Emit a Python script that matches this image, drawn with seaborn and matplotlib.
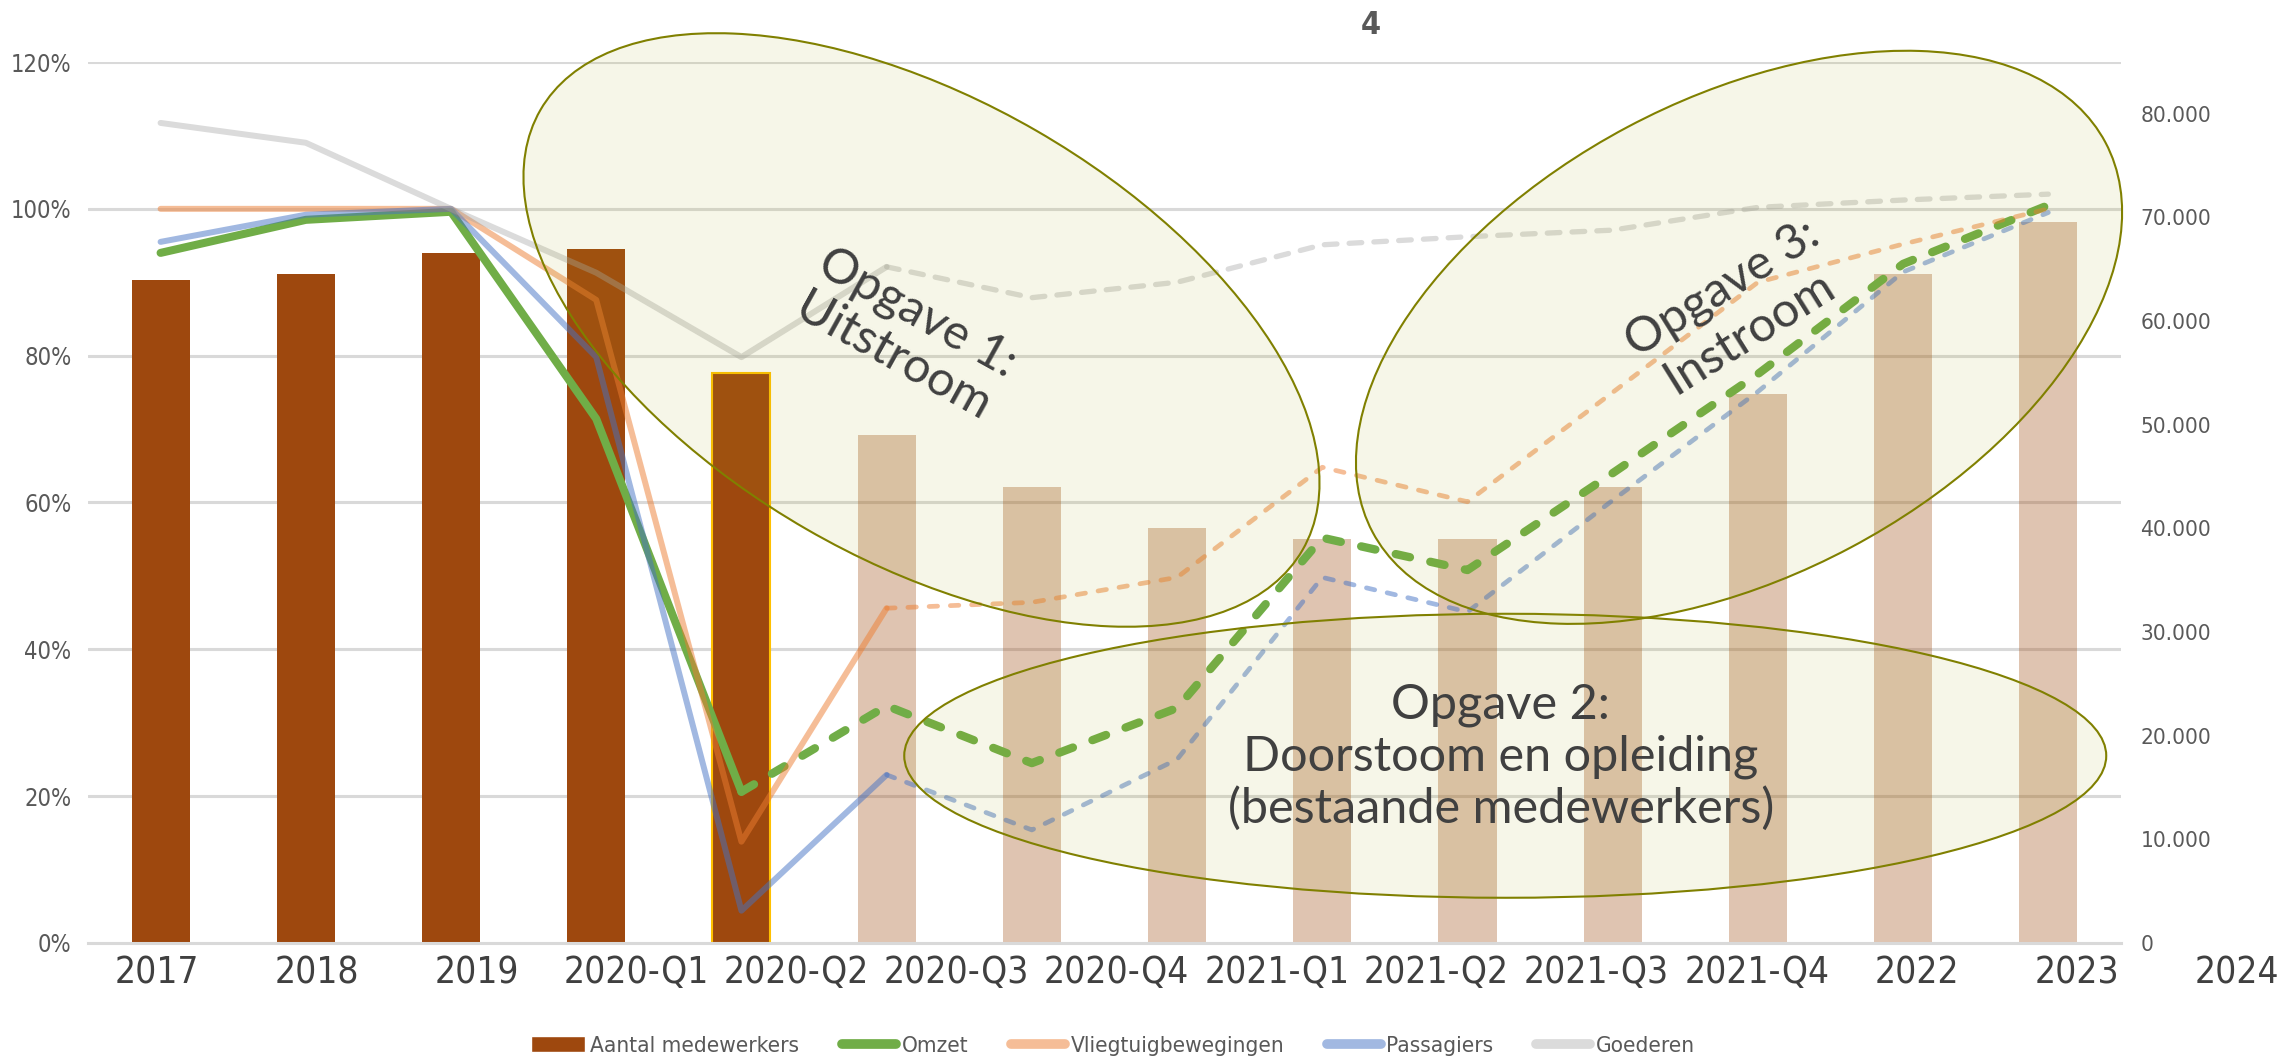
import numpy as np
import pandas as pd
import seaborn as sns
import matplotlib.pyplot as plt
from matplotlib import font_manager, transforms
from matplotlib.patches import Ellipse, Patch
from matplotlib.lines import Line2D
from matplotlib.colors import to_rgba
from matplotlib.ticker import FuncFormatter

# ---- data ----
perioden = ['2017', '2018', '2019', '2020-Q1', '2020-Q2', '2020-Q3', '2020-Q4',
            '2021-Q1', '2021-Q2', '2021-Q3', '2021-Q4', '2022', '2023', '2024']

# aantal medewerkers (rechter as); eerste 5 = realisatie, daarna prognose
medewerkers = [64000, 64500, 66600, 67000, 55000, 49000, 44000,
               40000, 39000, 39000, 44000, 53000, 64500, 69600]
n_realisatie = 5

# index t.o.v. 2019 in % (linker as)
omzet = [94.0, 98.5, 99.6, 71.4, 20.6, 32.3, 24.5, 32.0, 55.2, 50.8, 64.0, 77.5, 92.5, 100.5]
vliegtuigbewegingen = [100, 100, 100, 87.6, 13.8, 45.6, 46.4, 49.8, 64.8, 60.1, 75.0, 90.0, 95.2, 100.0]
passagiers = [95.5, 99.2, 100, 79.8, 4.4, 22.9, 15.4, 25.0, 49.8, 45.1, 60.3, 75.1, 91.4, 99.5]
goederen = [111.7, 109.0, 100.0, 91.3, 79.8, 92.1, 87.9, 90.0, 95.1, 96.2, 97.1, 100.2, 101.2, 102.0]

# ---- fonts: liefst een smalle letter zoals in het origineel ----
fonts = font_manager.fontManager.ttflist
def heeft(naam, stretch=None):
    return any(f.name == naam and (stretch is None or str(f.stretch) == stretch) for f in fonts)

if heeft('Liberation Sans Narrow'):
    smal, rek, fs = 'Liberation Sans Narrow', 'normal', 1.0
elif heeft('DejaVu Sans', 'condensed'):
    smal, rek, fs = 'DejaVu Sans', 'condensed', 0.83
elif heeft('Noto Sans', 'condensed'):
    smal, rek, fs = 'Noto Sans', 'condensed', 0.85
else:
    smal, rek, fs = 'DejaVu Sans', 'normal', 0.75

sns.set_style('white')
plt.rcParams['font.family'] = [smal, 'DejaVu Sans']
plt.rcParams['font.stretch'] = rek

fig = plt.figure(figsize=(22.85, 10.6), dpi=100)
ax = fig.add_axes([0.0385, 0.1104, 0.8897, 0.8311])
ax_bar = ax.twinx()
ax.set_zorder(1)
ax.patch.set_visible(False)
ax_bar.set_zorder(0)

# staven (rechter as)
sns.barplot(x=perioden, y=medewerkers, ax=ax_bar, color='#9E480E', width=0.4,
            saturation=1, zorder=2)
for i, p in enumerate(ax_bar.patches):
    p.set_linewidth(0)
    if i >= n_realisatie:
        p.set_alpha(0.32)
ax_bar.patches[n_realisatie - 1].set_edgecolor('#FFC000')
ax_bar.patches[n_realisatie - 1].set_linewidth(1.5)

# lijnen (linker as)
idx = np.arange(len(perioden))
stijl = {
    'Omzet': dict(kleur='#70AD47', alpha=1.0, lw=5.8, lw2=6.0, dash=(1.75, 2.5), split=4),
    'Vliegtuigbewegingen': dict(kleur='#ED7D31', alpha=0.5, lw=4.3, lw2=3.4, dash=(1.8, 2.7), split=5),
    'Passagiers': dict(kleur='#4472C4', alpha=0.5, lw=4.3, lw2=3.4, dash=(1.8, 2.7), split=5),
    'Goederen': dict(kleur='#A5A5A5', alpha=0.4, lw=4.3, lw2=3.8, dash=(2.4, 2.3), split=5),
}
reeksen = {'Omzet': omzet, 'Vliegtuigbewegingen': vliegtuigbewegingen,
           'Passagiers': passagiers, 'Goederen': goederen}

for naam, waarden in reeksen.items():
    st = stijl[naam]
    w = np.array(waarden)
    k = st['split']
    sns.lineplot(x=idx[:k + 1], y=w[:k + 1], ax=ax, color=st['kleur'], alpha=st['alpha'],
                 linewidth=st['lw'], solid_capstyle='round', solid_joinstyle='round')
    sns.lineplot(x=idx[k:], y=w[k:], ax=ax, color=st['kleur'], alpha=st['alpha'],
                 linewidth=st['lw2'], linestyle=(0, st['dash']),
                 dash_capstyle='round', dash_joinstyle='round')

# assen
ax.set_xlim(-0.5, len(perioden) - 0.5)
ax.set_ylim(0, 120)
ax_bar.set_ylim(0, 85000)
ax.set_xlabel('')
ax.set_ylabel('')
ax_bar.set_xlabel('')
ax_bar.set_ylabel('')

ax.set_yticks(range(0, 121, 20))
ax.yaxis.set_major_formatter(FuncFormatter(lambda v, _: f'{v:.0f}%'))
ax.tick_params(axis='y', length=0, pad=12, labelsize=20.5 * fs, labelcolor='#595959')

ax_bar.set_yticks(range(0, 80001, 10000))
ax_bar.yaxis.set_major_formatter(FuncFormatter(lambda v, _: f'{v:,.0f}'.replace(',', '.')))
ax_bar.tick_params(axis='y', length=0, pad=14, labelsize=19.5 * fs, labelcolor='#595959')

# rasterlijnen horen bij de %-as, maar liggen onder de staven
ax_bar.set_yticks([p / 120 * 85000 for p in range(20, 121, 20)], minor=True)
ax_bar.tick_params(axis='y', which='minor', length=0)
ax_bar.grid(axis='y', which='major', visible=False)
ax_bar.grid(axis='y', which='minor', color='#D9D9D9', linewidth=2.2)
ax_bar.set_axisbelow(True)

for s in ax_bar.spines.values():
    s.set_visible(False)
for s in ['top', 'left', 'right']:
    ax.spines[s].set_visible(False)
ax.spines['bottom'].set_color('#D9D9D9')
ax.spines['bottom'].set_linewidth(2.2)

ax.set_xticks(idx)
ax.set_xticklabels([''] * len(idx))
ax.set_xticks(np.arange(-0.5, len(perioden)), minor=True)
ax.tick_params(axis='x', which='both', direction='inout', length=9, width=1.5,
               color='#D9D9D9', labelbottom=False)

# categorie-labels staan in het origineel iets uit de pas met de staven
lbl_trans = transforms.blended_transform_factory(ax.transData, ax.transAxes)
for i, p in enumerate(perioden):
    ax.text(-0.0275 + 1.1019 * i, -0.034, p, transform=lbl_trans, ha='center', va='center',
            fontsize=32 * fs, color='#404040', clip_on=False)

# ovalen met opgaven
def ovaal(x, y, b, h, hoek):
    trans = fig.dpi_scale_trans + transforms.ScaledTranslation(x, y, ax.transData)
    e = Ellipse((0, 0), b, h, angle=hoek, transform=trans,
                facecolor=to_rgba('#AAAA1E', 0.1), edgecolor='#808000',
                linewidth=1.5, zorder=5, clip_on=False)
    ax.add_patch(e)

ovaal(5.24, 83.5, 8.8, 4.6, -30)
ovaal(9.26, 25.5, 12.02, 2.84, 0)
ovaal(10.87, 82.5, 8.3, 4.76, 28)

tkw = dict(fontsize=35, family='Lato', fontstretch='normal', color='#404040',
           ha='center', va='center', multialignment='center', zorder=7,
           rotation_mode='anchor', linespacing=1.2)
ax.text(5.13, 82.8, 'Opgave 1:\nUitstroom', rotation=-29, **tkw)
ax.text(9.23, 25.3, 'Opgave 2:\nDoorstoom en opleiding\n(bestaande medewerkers)', **tkw)
ax.text(10.85, 86.2, 'Opgave 3:\nInstroom', rotation=32, **tkw)

# restant van de (afgedekte) titel
fig.text(0.600, 0.976, '4', ha='center', va='center', fontsize=28 * fs,
         fontweight='bold', color='#595959')

# legenda
handles = [
    Patch(facecolor='#9E480E', label='Aantal medewerkers'),
    Line2D([], [], color='#70AD47', lw=7, solid_capstyle='round', label='Omzet'),
    Line2D([], [], color='#ED7D31', alpha=0.5, lw=7, solid_capstyle='round', label='Vliegtuigbewegingen'),
    Line2D([], [], color='#4472C4', alpha=0.5, lw=7, solid_capstyle='round', label='Passagiers'),
    Line2D([], [], color='#A5A5A5', alpha=0.4, lw=7, solid_capstyle='round', label='Goederen'),
]
fig.legend(handles=handles, loc='center', bbox_to_anchor=(0.487, 0.013), ncol=5,
           frameon=False, fontsize=19.5 * fs, labelcolor='#595959', handlelength=2.4,
           handletextpad=0.25, columnspacing=1.9)

fig.savefig('out.png', dpi=100)
